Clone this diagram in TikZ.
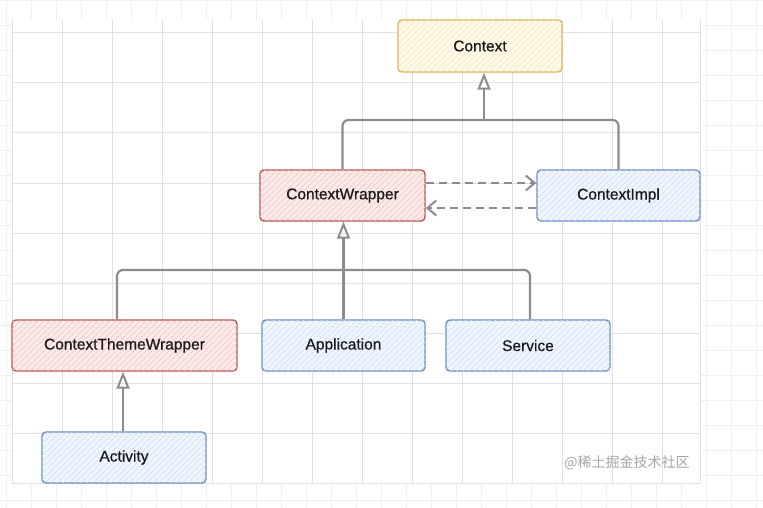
\documentclass[tikz,border=0pt]{standalone}
\usepackage{fontspec}
\setmainfont{Liberation Sans}
\newfontfamily\boxfont{Liberation Sans}[FakeBold=0.6]
\newfontfamily\cjk{Noto Sans CJK SC}
\usetikzlibrary{arrows.meta,patterns.meta}
\definecolor{yfill}{HTML}{FFF2CC}\definecolor{ydraw}{HTML}{D6B656}
\definecolor{rfill}{HTML}{F8CECC}\definecolor{rdraw}{HTML}{B85450}
\definecolor{bfill}{HTML}{DAE8FC}\definecolor{bdraw}{HTML}{6C8EBF}
\definecolor{lineg}{HTML}{8C8C8C}
\tikzset{
  box/.style={draw=#1draw, line width=1.4pt, rounded corners=4pt, minimum height=51pt,
    fill=#1fill!45!white, inner sep=0pt, font=\boxfont\fontsize{15.5}{17}\selectfont, text=black!90,
    postaction={pattern={Lines[angle=45,distance=4pt,line width=0.7pt]}, pattern color=#1fill!90!gray}},
  conn/.style={draw=lineg, line width=2.2pt, rounded corners=6pt},
  inh/.style={conn, -{Triangle[open,length=17pt,width=13pt,line width=2pt]}},
  dep/.style={draw=lineg, line width=2pt, dash pattern=on 8pt off 5pt, -{Straight Barb[length=9pt,width=15pt,line width=2pt]}},
}
\begin{document}
\begin{tikzpicture}[x=1pt,y=-1pt]
\useasboundingbox (0,0) rectangle (763,508);
% outer faint grid
\fill[white] (0,0) rectangle (763,508);
\foreach \x in {6.7,31.7,...,763} \draw[black!6,line width=0.8pt] (\x,0) -- (\x,508);
\foreach \y in {0,25,...,508} \draw[black!6,line width=0.8pt] (0,\y) -- (763,\y);
% inner grid
\fill[white] (12,20) rectangle (700,483);
\foreach \x in {12,62,...,700} \draw[black!12,line width=1pt] (\x,20) -- (\x,483);
\foreach \y in {33,83,...,483} \draw[black!12,line width=1pt] (12,\y) -- (700,\y);
\draw[black!12,line width=1pt] (700,20) -- (700,483);

% nodes
\node[box=y, minimum width=164pt, minimum height=52pt] (ctx) at (480,46) {Context};
\node[box=r, minimum width=165pt] (cw) at (342.5,195.5) {ContextWrapper};
\node[box=b, minimum width=163pt] (ci) at (618.5,195.5) {ContextImpl};
\node[box=r, minimum width=225pt] (ctw) at (124.5,345.5) {ContextThemeWrapper};
\node[box=b, minimum width=163pt] (app) at (343.5,345.5) {Application};
\node[box=b, minimum width=164pt] (svc) at (528,345.5) {Service};
\node[box=b, minimum width=164pt] (act) at (124,457.5) {Activity};

% inheritance to Context
\coordinate (busA) at (484,120);
\draw[conn] (cw.north) |- (busA) -| (ci.north);
\draw[inh] (busA) -- (busA |- ctx.south);

% dependencies
\draw[dep] ([yshift=12.5pt]cw.east) -- ([yshift=12.5pt]ci.west);
\draw[dep] ([yshift=-12.5pt]ci.west) -- ([yshift=-12.5pt]cw.east);

% inheritance to ContextWrapper
\coordinate (busB) at (343.5,270);
\draw[conn] ([xshift=-7.5pt]ctw.north) |- (busB) -| ([xshift=2pt]svc.north);
\draw[conn] (app.north) -- (busB);
\draw[inh] (busB) -- (busB |- cw.south);

% Activity -> ContextThemeWrapper
\draw[inh] ([xshift=-1pt]act.north) -- ([xshift=-1.5pt]ctw.south);

% watermark
\node[text=black!35, font=\cjk\fontsize{14}{16}\selectfont] (wm) at (627,463) {@稀土掘金技术社区};
\end{tikzpicture}
\end{document}
